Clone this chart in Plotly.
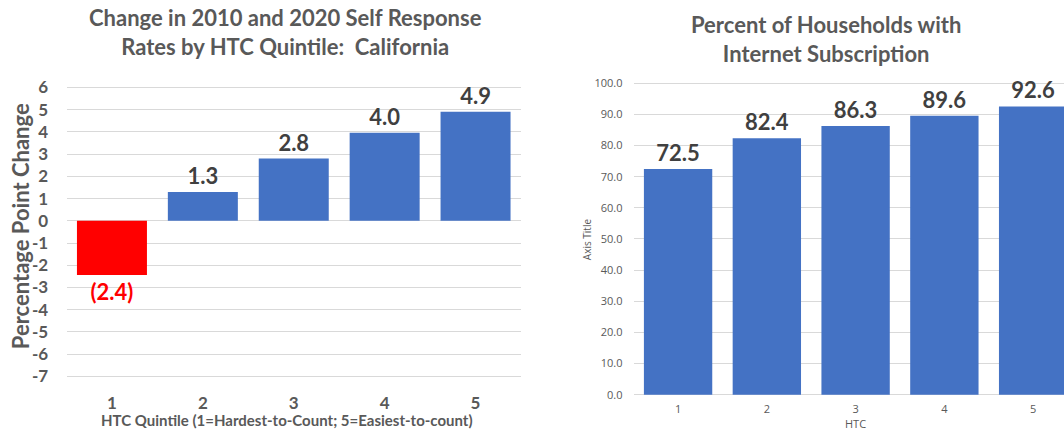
import plotly.graph_objects as go

# ---- data ----
quintiles = [1, 2, 3, 4, 5]
change_values = [-2.44, 1.3, 2.8, 3.96, 4.91]
internet_values = [72.5, 82.4, 86.3, 89.6, 92.6]

left_title = "Change in 2010 and 2020 Self Response<br>Rates by HTC Quintile:  California"
right_title = "Percent of Households with<br>Internet Subscription"
left_ytitle = "Percentage Point Change"
left_xtitle = "HTC Quintile (1=Hardest-to-Count; 5=Easiest-to-count)"
right_ytitle = "Axis Title"
right_xtitle = "HTC"
left_ticks = list(range(-7, 7))
right_ticks = [i * 10 for i in range(11)]

W, H = 1064, 431
BLUE = "#4472C4"
RED = "#FF0000"
LBL = "#404040"
GRAY = "#595959"
GRID = "#d9d9d9"
FONT = "Lato"

left_text = [f"({abs(v):.1f})" if v < 0 else f"{v:.1f}" for v in change_values]
left_colors = [RED if v < 0 else BLUE for v in change_values]
left_tcolors = [RED if v < 0 else LBL for v in change_values]

fig = go.Figure()
fig.add_trace(go.Bar(
    x=quintiles, y=change_values, xaxis="x", yaxis="y",
    marker=dict(color=left_colors, line=dict(width=0)),
    text=left_text, textposition="outside", cliponaxis=False,
    textfont=dict(family=FONT, size=22, color=left_tcolors, weight="bold"),
    showlegend=False,
))
fig.add_trace(go.Bar(
    x=quintiles, y=internet_values, xaxis="x2", yaxis="y2",
    marker=dict(color=BLUE, line=dict(width=0)),
    text=[f"{v:.1f}" for v in internet_values], textposition="outside", cliponaxis=False,
    textfont=dict(family=FONT, size=22, color=LBL, weight="bold"),
    showlegend=False,
))

def px_x(a, b):
    return [a / W, min(b / W, 1.0)]

def px_y(top, bottom):
    return [(H - bottom) / H, (H - top) / H]

l_top, l_bot = 78.4, 390.6
l_r = [-7.45, 6.34]
r_top, r_bot = 73.3, 400.8
r_r = [-0.55, 102.7]

fig.update_layout(
    width=W, height=H,
    margin=dict(l=0, r=0, t=0, b=0),
    paper_bgcolor="white", plot_bgcolor="white",
    bargap=0.23,
    font=dict(family=FONT, color=GRAY),
    xaxis=dict(domain=px_x(66.5, 521), range=[0.5, 5.5], tickvals=quintiles,
               showgrid=False, zeroline=False, showline=False, anchor="y",
               ticks="outside", ticklen=1, tickcolor="rgba(0,0,0,0)",
               tickfont=dict(family=FONT, size=17, color=GRAY, weight="bold")),
    yaxis=dict(domain=px_y(l_top, l_bot), range=l_r, tickvals=left_ticks,
               ticktext=[str(t) for t in left_ticks], anchor="x",
               showgrid=True, gridcolor=GRID, gridwidth=1,
               zeroline=True, zerolinecolor=GRID, zerolinewidth=1, showline=False,
               ticks="outside", ticklen=14, tickcolor="rgba(0,0,0,0)",
               tickfont=dict(family=FONT, size=17, color=GRAY, weight="bold")),
    xaxis2=dict(domain=px_x(633.7, 1064), range=[0.5, 5.5 - (1077.5 - 1064) / 88.7],
                tickvals=quintiles, showgrid=False, zeroline=False, showline=False,
                anchor="y2",
                ticks="outside", ticklen=2, tickcolor="rgba(0,0,0,0)",
                tickfont=dict(family="Open Sans", size=11, color=GRAY)),
    yaxis2=dict(domain=px_y(r_top, r_bot), range=r_r, tickvals=right_ticks,
                tickformat=".1f", anchor="x2",
                showgrid=True, gridcolor=GRID, gridwidth=1,
                zeroline=True, zerolinecolor=GRID, zerolinewidth=1, showline=False,
                ticks="outside", ticklen=8, tickcolor="rgba(0,0,0,0)",
                tickfont=dict(family="Open Sans", size=11, color=GRAY)),
)

ann = [
    dict(text=left_title, x=285 / W, y=1 - 29.4 / H, font=dict(family=FONT, size=22, color=GRAY, weight="bold")),
    dict(text=right_title, x=826 / W, y=1 - 36.5 / H, font=dict(family=FONT, size=22, color=GRAY, weight="bold")),
    dict(text=left_xtitle, x=287 / W, y=1 - 425.3 / H, font=dict(family=FONT, size=15, color=GRAY, weight="bold")),
    dict(text=right_xtitle, x=855 / W, y=1 - 428 / H, font=dict(family="Open Sans", size=11, color=GRAY)),
    dict(text=left_ytitle, x=20 / W, y=1 - 227.4 / H, textangle=-90, font=dict(family=FONT, size=22, color=GRAY, weight="bold")),
    dict(text=right_ytitle, x=587 / W, y=1 - 240.6 / H, textangle=-90, font=dict(family="Open Sans", size=10, color=GRAY)),
]
for a in ann:
    a.update(xref="paper", yref="paper", showarrow=False, xanchor="center", yanchor="middle")
fig.update_layout(annotations=ann)

fig.write_html("out.html")
